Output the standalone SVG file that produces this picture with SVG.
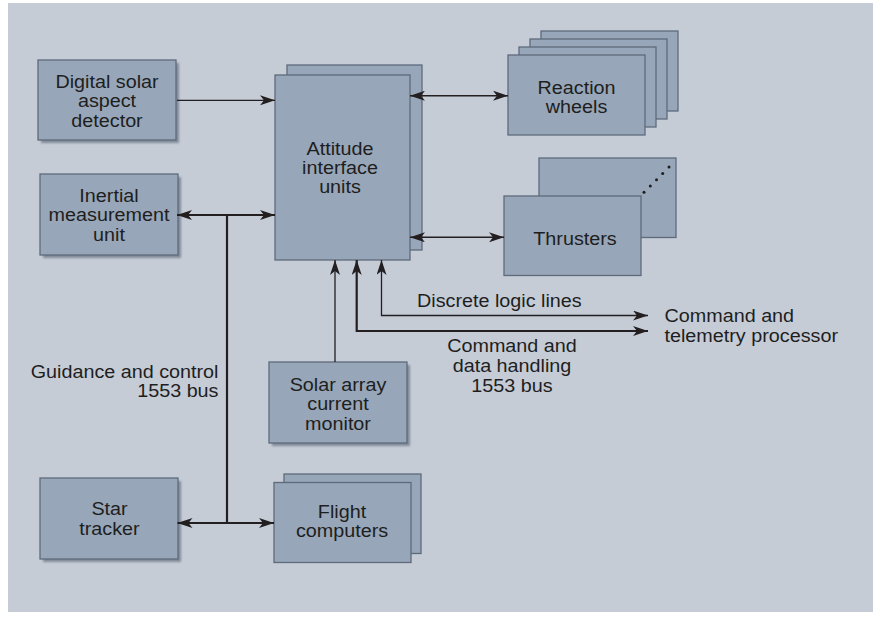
<svg xmlns="http://www.w3.org/2000/svg" width="878" height="622" viewBox="0 0 878 622">
<style>
.box{fill:#97a6b8;stroke:#5e6a7c;stroke-width:1.3}
.shadow{fill:#6c7584;opacity:0.75}
.lbl{font-family:"Liberation Sans",Arial,sans-serif;font-size:17.5px;fill:#1e1e1e}
.c{text-anchor:middle}
.e{text-anchor:end}
.thin{fill:none;stroke:#231f20;stroke-width:1.3}
.mid{fill:none;stroke:#231f20;stroke-width:1.6}
.thick{fill:none;stroke:#231f20;stroke-width:2.2}
</style>
<defs>
<filter id="blur" x="-10%" y="-10%" width="120%" height="120%"><feGaussianBlur stdDeviation="1"/></filter>
<marker id="ah" markerUnits="userSpaceOnUse" markerWidth="15" markerHeight="10" refX="15" refY="5" orient="auto-start-reverse">
<path d="M15,5 L0,0 L4,5 L0,10 Z" fill="#231f20"/>
</marker>
</defs>
<rect x="0" y="0" width="878" height="622" fill="#ffffff"/>
<rect x="8" y="3" width="865" height="609" fill="#c5ccd6"/>

<g id="dsad">
<rect class="shadow" x="41" y="63" width="138" height="80" filter="url(#blur)"/>
<rect class="box" x="38" y="60" width="138" height="80"/>
<text class="lbl c" transform="translate(107,87.5) scale(1.13,1)"><tspan x="0" y="0">Digital solar</tspan><tspan x="0" y="20">aspect</tspan><tspan x="0" y="40">detector</tspan></text>
</g>

<g id="imu">
<rect class="shadow" x="43" y="177" width="138" height="81" filter="url(#blur)"/>
<rect class="box" x="40" y="174" width="138" height="81"/>
<text class="lbl c" transform="translate(109,201.5) scale(1.13,1)"><tspan x="0" y="0">Inertial</tspan><tspan x="0" y="20">measurement</tspan><tspan x="0" y="39.5">unit</tspan></text>
</g>

<g id="aiu">
<rect class="box" x="287" y="65" width="135" height="185"/>
<rect class="box" x="275" y="75" width="135" height="185"/>
<text class="lbl c" transform="translate(340,154.5) scale(1.13,1)"><tspan x="0" y="0">Attitude</tspan><tspan x="0" y="19.5">interface</tspan><tspan x="0" y="39">units</tspan></text>
</g>

<g id="reaction-wheels">
<rect class="box" x="541" y="31" width="137" height="80"/>
<rect class="box" x="530" y="39" width="137" height="80"/>
<rect class="box" x="519" y="47" width="137" height="80"/>
<rect class="box" x="508" y="55" width="137" height="80"/>
<text class="lbl c" transform="translate(576.5,94) scale(1.13,1)"><tspan x="0" y="0">Reaction</tspan><tspan x="0" y="19.5">wheels</tspan></text>
</g>

<g id="thrusters">
<rect class="box" x="539" y="158" width="137" height="79.5"/>
<g fill="#1e1e1e"><circle cx="644" cy="192.3" r="1.5"/><circle cx="650.3" cy="186" r="1.5"/><circle cx="656.5" cy="179.8" r="1.5"/><circle cx="662.7" cy="173.4" r="1.5"/><circle cx="669" cy="167" r="1.5"/></g>
<rect class="box" x="504" y="196" width="137" height="79.5"/>
<text class="lbl c" transform="translate(575,245) scale(1.13,1)">Thrusters</text>
</g>

<g id="solar-array">
<rect class="shadow" x="272" y="365" width="138" height="81" filter="url(#blur)"/>
<rect class="box" x="269" y="362" width="138" height="81"/>
<text class="lbl c" transform="translate(338,390.5) scale(1.13,1)"><tspan x="0" y="0">Solar array</tspan><tspan x="0" y="20">current</tspan><tspan x="0" y="40">monitor</tspan></text>
</g>

<g id="star-tracker">
<rect class="shadow" x="43" y="481" width="138" height="81" filter="url(#blur)"/>
<rect class="box" x="40" y="478" width="138" height="81"/>
<text class="lbl c" transform="translate(109.5,515) scale(1.13,1)"><tspan x="0" y="0">Star</tspan><tspan x="0" y="20">tracker</tspan></text>
</g>

<g id="flight-computers">
<rect class="box" x="284" y="474" width="137" height="79.5"/>
<rect class="box" x="274" y="482.5" width="137" height="80"/>
<text class="lbl c" transform="translate(342,518.3) scale(1.13,1)"><tspan x="0" y="0">Flight</tspan><tspan x="0" y="19">computers</tspan></text>
</g>

<g id="ctp">
<text class="lbl" transform="translate(664.5,321.7) scale(1.13,1)"><tspan x="0" y="0">Command and</tspan><tspan x="0" y="20">telemetry processor</tspan></text>
</g>

<g id="connectors">
<line class="thin" x1="177" y1="100.3" x2="275" y2="100.3" marker-end="url(#ah)"/>
<line class="thick" x1="177" y1="215" x2="275" y2="215" marker-start="url(#ah)" marker-end="url(#ah)"/>
<line class="thick" x1="227" y1="215" x2="227" y2="523"/>
<line class="thick" x1="177.5" y1="523" x2="274" y2="523" marker-start="url(#ah)" marker-end="url(#ah)"/>
<line class="mid" x1="410" y1="95.7" x2="508" y2="95.7" marker-start="url(#ah)" marker-end="url(#ah)"/>
<line class="mid" x1="410" y1="237.3" x2="504" y2="237.3" marker-start="url(#ah)" marker-end="url(#ah)"/>
<line class="thin" x1="335" y1="362" x2="335" y2="260" marker-end="url(#ah)"/>
<path class="thick" d="M356.7,260 V331 H648" marker-start="url(#ah)" marker-end="url(#ah)"/>
<path class="thin" d="M381.5,260 V315.5 H648" marker-start="url(#ah)" marker-end="url(#ah)"/>
<text class="lbl" transform="translate(417,306.5) scale(1.13,1)">Discrete logic lines</text>
<text class="lbl c" transform="translate(512,352.3) scale(1.13,1)"><tspan x="0" y="0">Command and</tspan><tspan x="0" y="20">data handling</tspan><tspan x="0" y="40">1553 bus</tspan></text>
<text class="lbl e" transform="translate(218.5,377.7) scale(1.13,1)"><tspan x="0" y="0">Guidance and control</tspan><tspan x="0" y="19.6">1553 bus</tspan></text>
</g>
</svg>
